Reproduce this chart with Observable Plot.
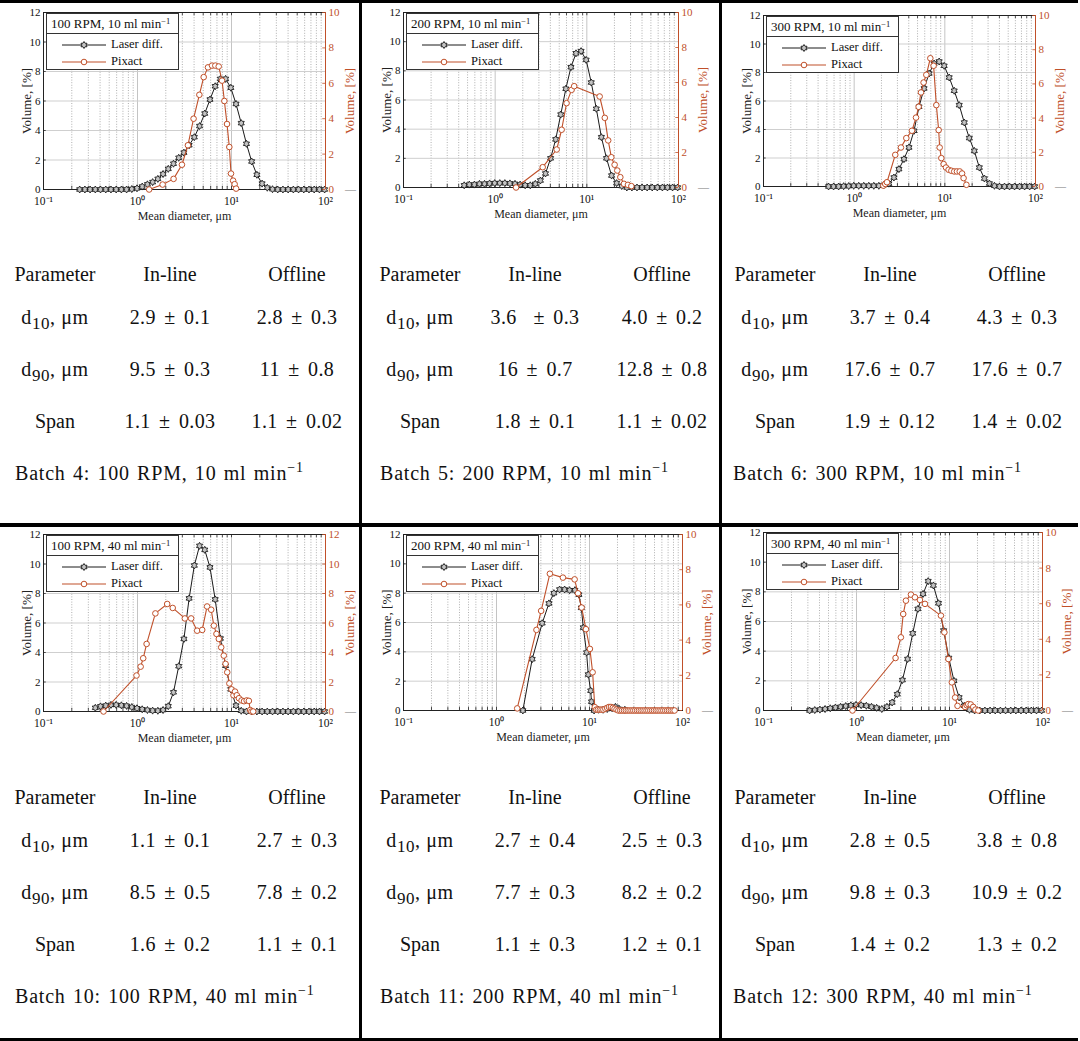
<!DOCTYPE html>
<html>
<head>
<meta charset="utf-8">
<script src="https://cdn.jsdelivr.net/npm/d3@7"></script>
<script src="https://cdn.jsdelivr.net/npm/@observablehq/plot@0.6"></script>
<style>
  body { margin: 0; background: #fff; }
  #root { position: relative; width: 1080px; height: 1041px; overflow: hidden; background: #fff;
          font-family: "Liberation Serif", "Times New Roman", serif; color: #111; }
  .bar { position: absolute; background: #000; }
  .chart { position: absolute; width: 360px; height: 220px; }
  .chart > svg { position: absolute; left: 0; top: 0; }
  .legend { position: absolute; background: #fff; border: 1px solid #333; font-size: 12.5px; line-height: 1; box-sizing: border-box; }
  .legend .lt { height: 19px; line-height: 19px; padding-left: 4px; border-bottom: 1px solid #333; white-space: nowrap; font-size: 13px; }
  .legend .lr { height: 17px; line-height: 17px; display: flex; align-items: center; white-space: nowrap; }
  .legend .lr svg { display: block; margin-left: 14px; margin-right: 4px; flex: none; }
  .legend sup { font-size: 8.5px; vertical-align: 4px; line-height: 0; }
  .t { position: absolute; font-size: 20px; line-height: 20px; white-space: nowrap; }
  .t.c { width: 200px; text-align: center; }
  .t.num { word-spacing: 3px; letter-spacing: 0.4px; }
  .t.lab { letter-spacing: 0.6px; }
  .t.bat { letter-spacing: 0.8px; word-spacing: 1.5px; }
  .t sub { font-size: 17px; vertical-align: -5px; line-height: 0; letter-spacing: 0.5px; }
  .t sup { font-size: 14px; vertical-align: 8px; line-height: 0; }
</style>
</head>
<body>
<div id="root"></div>
<script>
// ---------------- data ----------------
const majorTicks = [0.1, 1, 10, 100];
const xTickLabels = ["10\u207B\u00B9", "10\u2070", "10\u00B9", "10\u00B2"];
const minorTicks = [0.2,0.3,0.4,0.5,0.6,0.7,0.8,0.9,2,3,4,5,6,7,8,9,20,30,40,50,60,70,80,90];
const leftTicks = [0, 2, 4, 6, 8, 10, 12];
const rightTicks10 = [0, 2, 4, 6, 8, 10];
const rightTicks12 = [0, 2, 4, 6, 8, 10, 12];

// laser diffraction size classes (µm)
const laserBins = [0.2426,0.2757,0.3132,0.3558,0.4043,0.4594,0.5219,0.5929,0.6737,0.7654,0.8696,
  0.988,1.1225,1.2755,1.449,1.646,1.871,2.125,2.415,2.744,3.117,3.542,4.024,4.572,5.194,5.902,
  6.706,7.618,8.656,9.834,11.17,12.69,14.42,16.39,18.62,21.15,24.03,27.31,31.02,35.25,40.05,
  45.50,51.69,58.73,66.73,75.82,86.14,97.87];

// Panel 1: 100 RPM, 10 ml/min
const laser1Start = 0;
const laser1Y = [0,0,0,0,0,0,0,0,0,0,0.03,
  0.08,0.2,0.35,0.5,0.72,1.05,1.4,1.75,2.15,2.5,
  3.0,3.55,4.3,5.15,6.1,7.0,7.5,7.5,6.9,5.8,
  4.5,3.1,1.9,1.0,0.4,0.12,0.02,
  0,0,0,0,0,0,0,0,0,0];
const pix1X = [1.33,1.85,2.42,2.97,3.44,3.95,4.55,5.06,5.62,6.21,6.73,7.31,7.93,8.4,8.96,9.48,9.88,10.4,10.8,11.2];
const pix1Y = [0,0.28,0.6,1.4,2.5,4.0,5.35,6.35,6.9,7.0,7.0,6.95,6.15,5.0,3.7,2.4,0.9,0.5,0.3,0.05];

// Panel 2: 200 RPM, 10 ml/min
const laser2Start = 5;
const laser2Y = [0.15,0.2,0.2,0.25,0.25,0.28,
  0.3,0.3,0.3,0.28,0.25,0.2,0.15,0.15,0.25,0.48,
  0.96,2.0,3.3,5.0,6.77,8.25,9.2,9.35,8.75,7.2,
  5.4,3.45,2.0,0.82,0.3,0.1,
  0,0,0,0,0,0,0,0,0,0,0];
const pix2X = [1.69,3.3,4.69,5.31,6.01,6.82,7.28,13.8,15.7,17.1,18.5,20.1,21.5,23.2,25.4,28.1,30.6];
const pix2Y = [0.0,1.16,2.17,3.3,4.82,5.58,5.79,5.2,3.98,2.69,1.73,1.3,0.97,0.59,0.21,0.15,0.08];

// Panel 3: 300 RPM, 10 ml/min
const laser3Start = 6;
const laser3Y = [0,0,0,0.02,0.03,
  0.05,0.05,0.05,0.05,0.05,0.05,0.1,0.2,0.63,1.22,
  1.92,2.74,3.91,5.6,6.88,7.93,8.63,8.77,8.47,7.65,
  6.72,5.71,4.49,3.4,2.5,1.33,0.56,0.21,0.05,
  0,0,0,0,0,0,0,0];
const pix3X = [2.1,2.2,2.3,2.84,3.28,3.76,4.34,4.81,5.14,5.46,5.83,6.25,6.92,7.52,8.06,8.55,8.77,9.15,9.7,10.3,11.0,11.8,12.7,13.6,14.6,15.5,16.1,17.3];
const pix3Y = [0.05,0.15,0.25,1.85,2.28,2.83,3.26,4.03,4.66,5.5,6.08,6.53,7.5,7.06,4.76,3.3,2.28,1.66,1.31,1.11,0.98,0.92,0.88,0.88,0.88,0.76,0.49,0.1];

// Panel 4: 100 RPM, 40 ml/min
const laser4Start = 3;
const laser4Y = [0.25,0.35,0.4,0.45,0.45,0.42,0.38,0.3,
  0.22,0.15,0.1,0.06,0.05,0.1,0.36,1.3,3.07,4.92,
  7.67,9.9,11.23,10.96,9.77,7.6,4.95,3.1,1.5,0.4,
  0.05,
  0,0,0,0,0,0,0,0,0,0,0,0,0,0,0,0];
const pix4X = [0.435,0.976,1.08,1.15,1.25,1.55,2.07,2.37,3.19,3.72,4.31,4.88,5.5,6.08,6.49,6.92,7.33,7.77,8.28,8.64,9.01,9.5,10.0,10.5,10.9,11.4,12.0,12.8,13.6,14.5,15.3,15.8,16.3,17.0];
const pix4Y = [0,2.44,3.04,3.61,4.58,6.65,7.29,7.02,6.31,6.31,5.48,5.53,7.12,6.9,5.82,5.26,4.92,4.35,3.79,3.23,2.66,1.9,1.5,1.1,1.35,1.1,0.9,0.75,0.7,0.75,0.72,0.1,0.0,0.0];

// Panel 5: 200 RPM, 40 ml/min
const laser5X = [1.92,2.42,3.1,3.66,4.14,4.77,5.4,6.11,6.97,7.7,8.16,8.58,9.3,9.7,10.3,10.5,11.2,12.5,14.0,15.5,17.5,19.0,21.0,24.0];
const laser5Y = [0,3.5,5.95,7.3,8.0,8.25,8.25,8.2,8.2,7.9,7.0,5.65,3.95,2.45,1.35,0.6,0,0.05,0.05,0.1,0.15,0.25,0.1,0.05];
const pix5X = [1.67,2.69,3.02,3.75,5.18,6.92,7.52,8.23,9.16,10.1,10.8,11.4,
  11.8,12.3,12.9,13.5,14.1,14.8,15.5,16.2,17.0,17.8,18.6,19.5,20.4,21.4,22.4,23.5,24.6,25.8,27.0,28.3,
  29.6,31.0,32.5,34.0,35.6,37.3,39.1,41.0,42.9,45.0,47.1,49.3,51.7,54.1,56.7,59.4,62.2,65.2,68.3,71.5,
  74.9,78.5,82.2];
const pix5Y = [0.12,4.58,5.66,7.77,7.55,7.45,6.66,5.85,4.62,3.5,2.17,0.19,
  0.05,0.05,0.05,0.05,0.05,0.1,0.15,0.2,0.2,0.15,0.1,0.05,0,0,0,0,0,0,0,0,
  0,0,0,0,0,0,0,0,0,0,0,0,0,0,0,0,0,0,0,0,
  0,0,0];

// Panel 6: 300 RPM, 40 ml/min
const laser6Start = 2;
const laser6Y = [0,0.03,0.06,0.1,0.15,0.2,0.25,0.3,0.35,
  0.38,0.36,0.32,0.25,0.18,0.1,0.25,0.54,1.1,2.05,
  3.47,5.2,6.85,7.86,8.72,8.43,7.23,5.39,3.54,2.0,
  0.88,0.32,0.05,
  0,0,0,0,0,0,0,0,0,0,0,0,0,0];
const pix6X = [0.905,2.63,3.0,3.18,3.4,3.85,4.25,4.81,5.45,8.09,8.81,9.73,10.6,11.5,12.2,14.7,15.3,15.9,16.9,18.0,19.0,20.4];
const pix6Y = [0,2.95,4.11,5.42,6.17,6.51,6.36,6.21,5.99,5.33,4.39,2.89,1.58,0.73,0.26,0.2,0.3,0.36,0.34,0.2,0.05,0];

const legendTitles = ["100 RPM, 10 ml min", "200 RPM, 10 ml min", "300 RPM, 10 ml min",
                      "100 RPM, 40 ml min", "200 RPM, 40 ml min", "300 RPM, 40 ml min"];
const seriesNames = ["Laser diff.", "Pixact"];

// tables
const tableHeader = ["Parameter", "In-line", "Offline"];
const rowLabels = ["d<sub>10</sub>, \u03BCm", "d<sub>90</sub>, \u03BCm", "Span"];
const inlineVals = [
  ["2.9 \u00B1 0.1", "9.5 \u00B1 0.3", "1.1 \u00B1 0.03"],
  ["3.6 \u00A0\u00B1 0.3", "16 \u00B1 0.7", "1.8 \u00B1 0.1"],
  ["3.7 \u00B1 0.4", "17.6 \u00B1 0.7", "1.9 \u00B1 0.12"],
  ["1.1 \u00B1 0.1", "8.5 \u00B1 0.5", "1.6 \u00B1 0.2"],
  ["2.7 \u00B1 0.4", "7.7 \u00B1 0.3", "1.1 \u00B1 0.3"],
  ["2.8 \u00B1 0.5", "9.8 \u00B1 0.3", "1.4 \u00B1 0.2"]
];
const offlineVals = [
  ["2.8 \u00B1 0.3", "11 \u00B1 0.8", "1.1 \u00B1 0.02"],
  ["4.0 \u00B1 0.2", "12.8 \u00B1 0.8", "1.1 \u00B1 0.02"],
  ["4.3 \u00B1 0.3", "17.6 \u00B1 0.7", "1.4 \u00B1 0.02"],
  ["2.7 \u00B1 0.3", "7.8 \u00B1 0.2", "1.1 \u00B1 0.1"],
  ["2.5 \u00B1 0.3", "8.2 \u00B1 0.2", "1.2 \u00B1 0.1"],
  ["3.8 \u00B1 0.8", "10.9 \u00B1 0.2", "1.3 \u00B1 0.2"]
];
const batchLabels = ["Batch 4: 100 RPM, 10 ml min", "Batch 5: 200 RPM, 10 ml min", "Batch 6: 300 RPM, 10 ml min",
                     "Batch 10: 100 RPM, 40 ml min", "Batch 11: 200 RPM, 40 ml min", "Batch 12: 300 RPM, 40 ml min"];

// ---------------- layout ----------------
const orange = "#c0502a";
const fontFam = "Liberation Serif, Times New Roman, serif";
const cellX = [0, 360, 720, 0, 360, 720];
const cellY = [0, 0, 0, 523, 523, 523];
const frames = [ // left, right, top, bottom (relative to cell)
  [43, 325, 12, 189], [43, 318, 12, 187], [43, 315, 15, 186],
  [43, 325, 11, 188], [43, 322, 11, 187], [43, 322, 9, 187]
];
const rightMax = [10, 10, 10, 12, 10, 10];
const tableShift = [0, 5, 0, 0, 5, 0];

function hexPath(R) {
  const r = R * 0.58;
  let s = "";
  for (let i = 0; i < 12; i++) {
    const a = Math.PI / 6 * i - Math.PI / 2;
    const rr = i % 2 ? r : R;
    s += (i ? "L" : "M") + (rr * Math.cos(a)).toFixed(2) + "," + (rr * Math.sin(a)).toFixed(2);
  }
  return s + "Z";
}

const hexagram = {
  draw(ctx, size) {
    const R = Math.sqrt(size / Math.PI), r = R * 0.58;
    for (let i = 0; i < 12; i++) {
      const a = Math.PI / 6 * i - Math.PI / 2;
      const rr = i % 2 ? r : R;
      const px = rr * Math.cos(a), py = rr * Math.sin(a);
      if (i) ctx.lineTo(px, py); else ctx.moveTo(px, py);
    }
    ctx.closePath();
  }
};

function laserData(p) {
  if (p === 4) return laser5X.map((x, i) => ({x, y: laser5Y[i]}));
  const starts = [laser1Start, laser2Start, laser3Start, laser4Start, null, laser6Start];
  const ys = [laser1Y, laser2Y, laser3Y, laser4Y, null, laser6Y];
  return ys[p].map((y, i) => ({x: laserBins[starts[p] + i], y}));
}
function pixData(p) {
  const xs = [pix1X, pix2X, pix3X, pix4X, pix5X, pix6X];
  const ys = [pix1Y, pix2Y, pix3Y, pix4Y, pix5Y, pix6Y];
  return xs[p].map((x, i) => ({x, y: ys[p][i]}));
}

const root = document.getElementById("root");
function bar(l, t, w, h) {
  const d = document.createElement("div");
  d.className = "bar";
  Object.assign(d.style, {left: l + "px", top: t + "px", width: w + "px", height: h + "px"});
  root.appendChild(d);
}

const W = 360, H = 220;
for (let p = 0; p < 6; p++) {
  const [fl, fr, ft, fb] = frames[p];
  const box = document.createElement("div");
  box.className = "chart";
  box.style.left = cellX[p] + "px";
  box.style.top = cellY[p] + "px";
  root.appendChild(box);

  const common = {
    width: W, height: H,
    marginLeft: fl, marginRight: W - fr, marginTop: ft, marginBottom: H - fb,
    style: {fontFamily: fontFam, fontSize: "11.5px", background: "transparent", overflow: "visible", color: "#111"},
    x: {type: "log", domain: [0.1, 100], axis: null}
  };
  const allX = minorTicks.concat(majorTicks);

  const left = Plot.plot({
    ...common,
    y: {domain: [0, 12], axis: null},
    marks: [
      Plot.ruleX(minorTicks, {stroke: "#8a8a8a", strokeOpacity: 0.85, strokeWidth: 0.8, strokeDasharray: "1,1.6"}),
      Plot.ruleX(majorTicks, {stroke: "#c4c4c4", strokeWidth: 1}),
      Plot.ruleY(leftTicks, {stroke: "#cfcfcf", strokeWidth: 1}),
      Plot.ruleX(allX, {y1: 0, y2: 0.22, stroke: "#222", strokeWidth: 0.8}),
      Plot.ruleX(allX, {y1: 12, y2: 11.78, stroke: "#222", strokeWidth: 0.8}),
      Plot.ruleY(leftTicks, {x1: 0.1, x2: 0.107, stroke: "#222", strokeWidth: 0.8}),
      Plot.frame({stroke: "#222", strokeWidth: 1}),
      Plot.axisX({ticks: majorTicks, tickFormat: d => xTickLabels[majorTicks.indexOf(d)], tickSize: 0, tickPadding: 7, label: null, fontSize: 11.5}),
      Plot.axisY({ticks: leftTicks, tickSize: 0, tickPadding: 3, label: null, fontSize: 11}),
      Plot.line(laserData(p), {x: "x", y: "y", stroke: "#1a1a1a", strokeWidth: 1}),
      Plot.dot(laserData(p), {x: "x", y: "y", symbol: hexagram, r: 3.5, stroke: "#1a1a1a", strokeWidth: 0.9, fill: "#c4c4c4"}),
      Plot.text(["Volume, [%]"], {frameAnchor: "left", dx: -17, rotate: -90, textAnchor: "middle", lineAnchor: "middle", fontSize: 13, fill: "#222"}),
      Plot.text(["Mean diameter, \u03BCm"], {frameAnchor: "bottom", dy: 27, textAnchor: "middle", lineAnchor: "middle", fontSize: 12, fill: "#222"})
    ]
  });

  const rt = rightMax[p] === 12 ? rightTicks12 : rightTicks10;
  const right = Plot.plot({
    ...common,
    y: {domain: [0, rightMax[p]], axis: null},
    marks: [
      Plot.ruleX([100], {stroke: orange, strokeWidth: 1}),
      Plot.ruleY(rt, {x1: 93.5, x2: 100, stroke: orange, strokeWidth: 0.8}),
      Plot.axisY({anchor: "right", ticks: rt, tickSize: 0, tickPadding: 3, label: null, color: orange, fontSize: 11}),
      Plot.line(pixData(p), {x: "x", y: "y", stroke: orange, strokeWidth: 1.1}),
      Plot.dot(pixData(p), {x: "x", y: "y", r: 2.8, stroke: orange, strokeWidth: 1, fill: "#fff"}),
      Plot.text(["Volume, [%]"], {frameAnchor: "right", dx: 24, rotate: -90, textAnchor: "middle", lineAnchor: "middle", fontSize: 13, fill: orange}),
      Plot.text(["\u2014"], {frameAnchor: "bottom-right", dx: 25, textAnchor: "middle", lineAnchor: "middle", fontSize: 11, fill: "#777"})
    ]
  });
  box.appendChild(left);
  box.appendChild(right);

  // legend
  const lg = document.createElement("div");
  lg.className = "legend";
  Object.assign(lg.style, {left: (fl + 3) + "px", top: (ft + 1) + "px", width: "133px", height: "57px"});
  lg.innerHTML =
    `<div class="lt">${legendTitles[p]}<sup>\u22121</sup></div>` +
    `<div class="lr" style="margin-top:2px"><svg width="46" height="12"><line x1="1" x2="45" y1="6" y2="6" stroke="#1a1a1a" stroke-width="1"/>` +
    `<path transform="translate(23,6)" d="${hexPath(3.5)}" fill="#c4c4c4" stroke="#1a1a1a" stroke-width="0.9"/></svg><span>${seriesNames[0]}</span></div>` +
    `<div class="lr"><svg width="46" height="12"><line x1="1" x2="45" y1="6" y2="6" stroke="${orange}" stroke-width="1.1"/>` +
    `<circle cx="23" cy="6" r="2.8" fill="#fff" stroke="${orange}" stroke-width="1"/></svg><span>${seriesNames[1]}</span></div>`;
  box.appendChild(lg);

  // table
  const tx = cellX[p] + tableShift[p];
  const ty = cellY[p];
  const cols = [55, 170, 297];
  const baselines = [280, 323, 375, 427];
  function put(html, cx, base, cls) {
    const d = document.createElement("div");
    const centered = cls !== "bat";
    d.className = "t " + cls + (centered ? " c" : "");
    d.style.left = (centered ? tx + cx - 100 : tx + cx) + "px";
    d.style.top = (ty + base - 16) + "px";
    d.innerHTML = html;
    root.appendChild(d);
  }
  tableHeader.forEach((h, i) => put(h, cols[i], baselines[0], "hd"));
  rowLabels.forEach((r, j) => {
    put(r, cols[0], baselines[j + 1], j < 2 ? "lab" : "hd");
    put(inlineVals[p][j], cols[1], baselines[j + 1], "num");
    put(offlineVals[p][j], cols[2], baselines[j + 1], "num");
  });
  put(batchLabels[p] + "<sup>\u22121</sup>", 15 - (p % 3 === 2 ? 2 : 0), 479, "bat");
}

// cell borders
bar(0, 0, 1078, 3);
bar(0, 523, 1078, 4);
bar(0, 1038, 1078, 3);
bar(359, 0, 3, 1041);
bar(719, 0, 3, 1041);
</script>
</body>
</html>
